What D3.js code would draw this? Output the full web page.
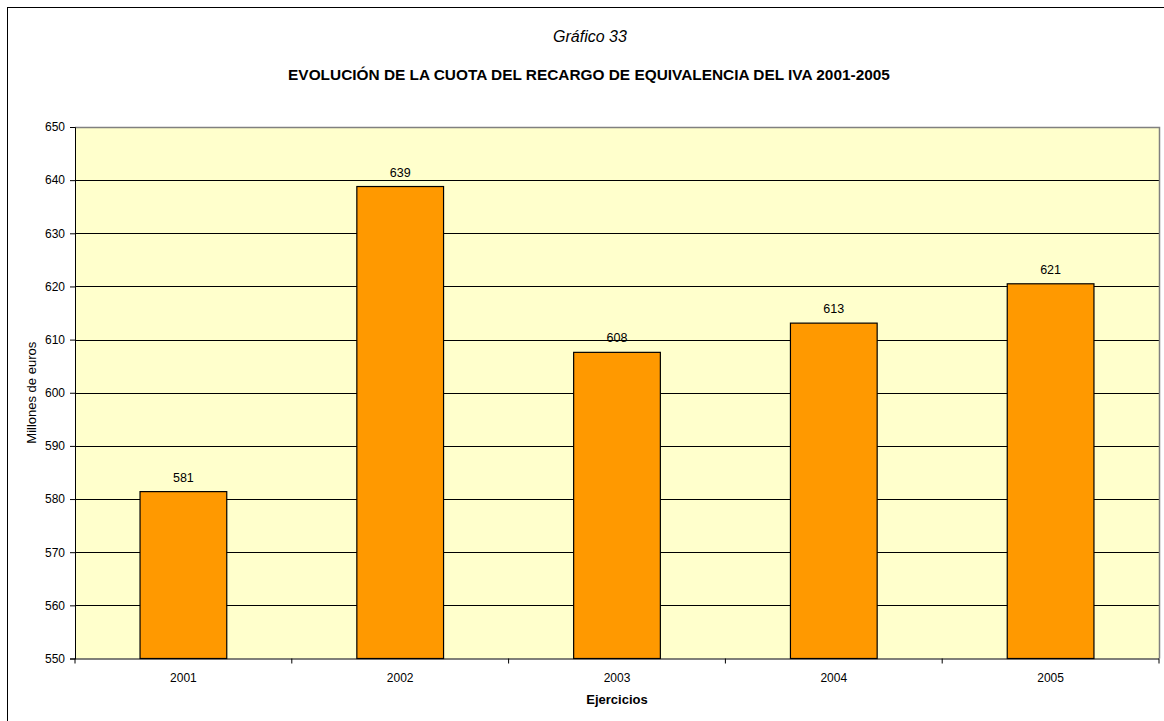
<!DOCTYPE html>
<html><head><meta charset="utf-8">
<script src="https://cdn.jsdelivr.net/npm/d3@7"></script>
<style>body{margin:0;background:#fff}svg{display:block}text{font-family:Arial,"Liberation Sans",sans-serif;fill:#000}</style>
</head><body><svg id="c" width="1164" height="721"></svg>
<script>
const categories = ["2001","2002","2003","2004","2005"];
const values = [581.4, 638.8, 607.6, 613.1, 620.5];
const labels = ["581","639","608","613","621"];
const yTicks = [550,560,570,580,590,600,610,620,630,640,650];

const svg = d3.select("#c");
const L = 75, R = 1159, T = 127, B = 658.5;
const x = d3.scaleBand().domain(categories).range([L, R]).paddingInner(0.6).paddingOuter(0.3);
const y = d3.scaleLinear().domain([550, 650]).range([B, T]);

// outer border
svg.append("rect").attr("x",7.5).attr("y",7.5).attr("width",1170).attr("height",720).attr("fill","none").attr("stroke","#000").attr("stroke-width",1);

// plot background
svg.append("rect").attr("x",L).attr("y",T).attr("width",R-L).attr("height",B-T).attr("fill","#ffffcc");

// gridlines
svg.append("g").selectAll("line").data(yTicks.filter(d=>d>550 && d<650)).join("line")
  .attr("x1",L).attr("x2",R).attr("y1",d=>Math.round(y(d))+0.5).attr("y2",d=>Math.round(y(d))+0.5)
  .attr("stroke","#000").attr("stroke-width",1);

// plot border top/right gray
svg.append("path").attr("d",`M${L},${T+0.5}H${R+0.5}V${B}`).attr("fill","none").attr("stroke","#808080").attr("stroke-width",1.5);

// bars
svg.append("g").selectAll("rect").data(values).join("rect")
  .attr("x",(d,i)=>x(categories[i])).attr("width",x.bandwidth())
  .attr("y",d=>y(d)).attr("height",d=>B-y(d))
  .attr("fill","#ff9900").attr("stroke","#000").attr("stroke-width",1.2);

// value labels
svg.append("g").selectAll("text").data(values).join("text")
  .attr("x",(d,i)=>x(categories[i])+x.bandwidth()/2).attr("y",d=>y(d)-10)
  .attr("text-anchor","middle").attr("font-size","12.5px").text((d,i)=>labels[i]);

// y axis
const ya = d3.axisLeft(y).tickValues(yTicks).tickSize(5).tickPadding(5).tickFormat(d3.format("d"));
const gy = svg.append("g").attr("transform",`translate(${L},0)`).call(ya);
gy.select(".domain").attr("stroke","#000");
gy.selectAll("text").attr("font-size","12px").attr("font-family","Arial,'Liberation Sans',sans-serif");

// x axis with ticks between categories
const gx = svg.append("g");
gx.append("line").attr("x1",L).attr("x2",R).attr("y1",B+0.5).attr("y2",B+0.5).attr("stroke","#000");
const step = (R-L)/categories.length;
gx.selectAll("line.t").data(d3.range(categories.length+1)).join("line").attr("class","t")
  .attr("x1",i=>L+i*step).attr("x2",i=>L+i*step).attr("y1",B).attr("y2",B+5).attr("stroke","#000");
gx.selectAll("text").data(categories).join("text")
  .attr("x",d=>x(d)+x.bandwidth()/2).attr("y",B+23.5).attr("text-anchor","middle")
  .attr("font-size","12px").text(d=>d);

// titles
svg.append("text").attr("x",590).attr("y",42).attr("text-anchor","middle").attr("font-size","16px").attr("font-style","italic").text("Gráfico 33");
svg.append("text").attr("x",589).attr("y",80).attr("text-anchor","middle").attr("font-size","15.4px").attr("font-weight","bold").text("EVOLUCIÓN DE LA CUOTA DEL RECARGO DE EQUIVALENCIA DEL IVA 2001-2005");
svg.append("text").attr("x",x("2003")+x.bandwidth()/2).attr("y",704).attr("text-anchor","middle").attr("font-size","13px").attr("font-weight","bold").text("Ejercicios");
svg.append("text").attr("transform",`translate(36,${(T+B)/2}) rotate(-90)`).attr("text-anchor","middle").attr("font-size","13px").text("Millones de euros");
</script></body></html>
